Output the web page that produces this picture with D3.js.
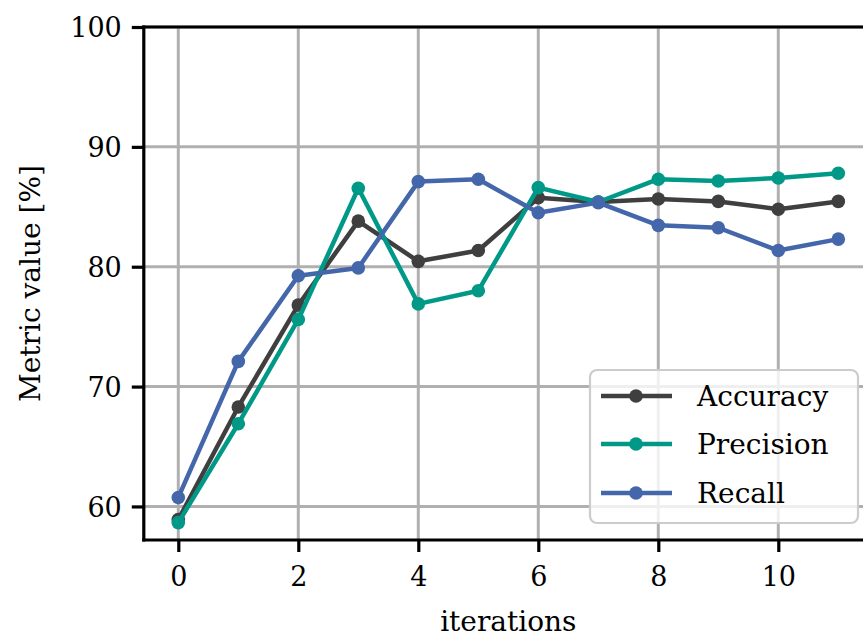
<!DOCTYPE html>
<html>
<head>
<meta charset="utf-8">
<script src="https://cdn.jsdelivr.net/npm/d3@7"></script>
<style>
  html, body { margin: 0; padding: 0; background: #fff; }
  svg { display: block; }
  text { font-family: "DejaVu Serif", serif; fill: #000; }
</style>
</head>
<body>
<svg id="chart" width="863" height="637"></svg>
<script>
const iterations = [0, 1, 2, 3, 4, 5, 6, 7, 8, 9, 10, 11];
const accuracy  = [58.9, 68.3, 76.8, 83.8, 80.45, 81.35, 85.75, 85.4, 85.65, 85.45, 84.8, 85.45];
const precision = [58.65, 66.9, 75.6, 86.55, 76.9, 78.0, 86.6, 85.4, 87.3, 87.15, 87.4, 87.8];
const recall    = [60.75, 72.1, 79.25, 79.9, 87.1, 87.3, 84.5, 85.35, 83.45, 83.25, 81.35, 82.3];
const seriesNames = ["Accuracy", "Precision", "Recall"];
const seriesColors = ["#3f3f3f", "#009988", "#4466aa"];
const xTicks = [0, 2, 4, 6, 8, 10];
const yTicks = [60, 70, 80, 90, 100];

const seriesValues = [accuracy, precision, recall];

const svg = d3.select("#chart");
const pLeft = 143.8, pTop = 27, pBottom = 540, pRight = 872.8;

const x = d3.scaleLinear().domain([-0.575, 11.575]).range([pLeft, pRight]);
const y = d3.scaleLinear().domain([57.2, 100]).range([pBottom, pTop]);

// grid
const grid = svg.append("g");
grid.selectAll("line.gx").data(xTicks).enter().append("line")
  .attr("x1", d => x(d)).attr("x2", d => x(d))
  .attr("y1", pTop).attr("y2", pBottom)
  .attr("stroke", "#b0b0b0").attr("stroke-width", 3);
grid.selectAll("line.gy").data(yTicks).enter().append("line")
  .attr("x1", pLeft).attr("x2", pRight)
  .attr("y1", d => y(d)).attr("y2", d => y(d))
  .attr("stroke", "#b0b0b0").attr("stroke-width", 3);

// series
const line = d3.line().x((d, i) => x(iterations[i])).y(d => y(d));
seriesValues.forEach((vals, si) => {
  const g = svg.append("g");
  g.append("path").datum(vals)
    .attr("d", line)
    .attr("fill", "none")
    .attr("stroke", seriesColors[si])
    .attr("stroke-width", 4.5)
    .attr("stroke-linejoin", "round");
  g.selectAll("circle").data(vals).enter().append("circle")
    .attr("cx", (d, i) => x(iterations[i]))
    .attr("cy", d => y(d))
    .attr("r", 6.8)
    .attr("fill", seriesColors[si]);
});

// axes
const xAxis = d3.axisBottom(x).tickValues(xTicks).tickSize(12).tickPadding(15).tickFormat(d3.format("d"));
const yAxis = d3.axisLeft(y).tickValues(yTicks).tickSize(12).tickPadding(10).tickFormat(d3.format("d"));

const gx = svg.append("g").attr("transform", `translate(0,${pBottom})`).call(xAxis);
const gy = svg.append("g").attr("transform", `translate(${pLeft},0)`).call(yAxis);
[gx, gy].forEach(g => {
  g.select(".domain").remove();
  g.selectAll(".tick line").attr("stroke", "#000").attr("stroke-width", 3.2);
  g.selectAll(".tick text").style("font-family", "DejaVu Serif").style("font-size", "27px").attr("fill", "#000");
});
gy.selectAll(".tick text").attr("dy", "0.36em");

// spines
svg.append("line").attr("x1", pLeft).attr("x2", pLeft).attr("y1", pTop - 1.6).attr("y2", pBottom + 1.6)
  .attr("stroke", "#000").attr("stroke-width", 3.2);
svg.append("line").attr("x1", pLeft - 1.6).attr("x2", pRight).attr("y1", pBottom).attr("y2", pBottom)
  .attr("stroke", "#000").attr("stroke-width", 3.2);
svg.append("line").attr("x1", pLeft - 1.6).attr("x2", pRight).attr("y1", pTop).attr("y2", pTop)
  .attr("stroke", "#000").attr("stroke-width", 3.2);

// axis labels
svg.append("text").attr("x", (pLeft + pRight) / 2).attr("y", 631)
  .attr("text-anchor", "middle").style("font-size", "28px").text("iterations");
svg.append("text")
  .attr("transform", `translate(40,${(pTop + pBottom) / 2}) rotate(-90)`)
  .attr("text-anchor", "middle").style("font-size", "28px").text("Metric value [%]");

// legend
const lg = svg.append("g");
lg.append("rect").attr("x", 590).attr("y", 370).attr("width", 268).attr("height", 153)
  .attr("rx", 7).attr("ry", 7)
  .attr("fill", "#fff").attr("fill-opacity", 0.8)
  .attr("stroke", "#cccccc").attr("stroke-width", 2.2);
const rowsY = [396, 444, 493];
seriesNames.forEach((name, i) => {
  lg.append("line").attr("x1", 601).attr("x2", 672).attr("y1", rowsY[i]).attr("y2", rowsY[i])
    .attr("stroke", seriesColors[i]).attr("stroke-width", 4.5);
  lg.append("circle").attr("cx", 636).attr("cy", rowsY[i]).attr("r", 6.8).attr("fill", seriesColors[i]);
  lg.append("text").attr("x", 697).attr("y", rowsY[i]).attr("dy", "0.36em")
    .style("font-size", "28px").text(name);
});
</script>
</body>
</html>
